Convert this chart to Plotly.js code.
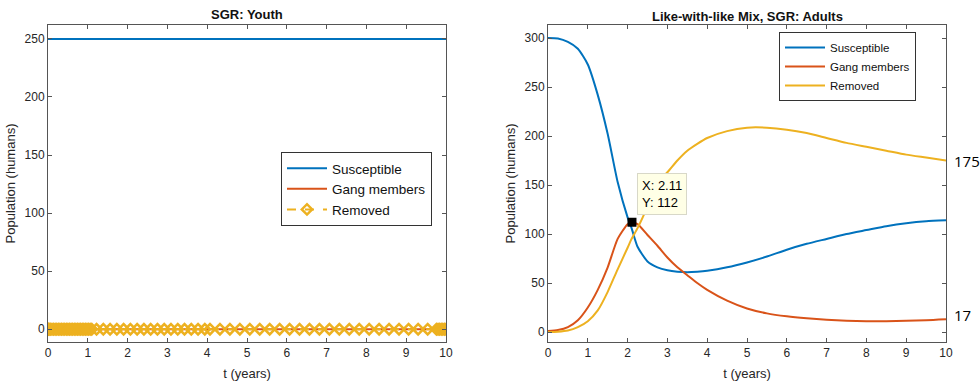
<!DOCTYPE html>
<html>
<head>
<meta charset="utf-8">
<script src="https://cdn.plot.ly/plotly-3.0.1.min.js"></script>
<style>html,body{margin:0;padding:0;background:#fff;}#chart{width:980px;height:382px;}</style>
</head>
<body>
<div id="chart"></div>
<script>
// ---- Left panel: SGR: Youth ----
const tYouthLine = [0, 10];
const susYouth = [250, 250];
const gangYouth = [0, 0];
const tYouth = [0,0.01,0.03,0.06,0.1,0.14,0.18,0.22,0.26,0.3,0.34,0.38,0.42,0.46,0.5,0.54,0.58,0.62,0.66,0.7,0.74,0.78,0.82,0.86,0.9,0.94,0.98,1.02,1.06,1.1,
  1.22,1.39,1.56,1.73,1.9,2.07,2.24,2.41,2.58,2.75,2.92,3.09,3.26,3.43,3.6,3.77,3.94,
  4.07,4.32,4.57,4.82,5.07,5.32,5.57,5.82,6.07,6.32,6.57,6.82,7.07,7.32,7.57,7.82,8.07,8.32,8.57,8.82,9.06,9.3,9.54,
  9.76,9.8,9.84,9.88,9.92,9.96,10];
const remYouth = [0,0,0,0,0,0,0,0,0,0,0,0,0,0,0,0,0,0,0,0,0,0,0,0,0,0,0,0,0,0,
  0,0,0,0,0,0,0,0,0,0,0,0,0,0,0,0,0,
  0,0,0,0,0,0,0,0,0,0,0,0,0,0,0,0,0,0,0,0,0,0,0,
  0,0,0,0,0,0,0];

// ---- Right panel: Like-with-like Mix, SGR: Adults ----
const tAdult = [0,0.25,0.5,0.75,1,1.25,1.5,1.75,2,2.1,2.25,2.5,2.75,3,3.25,3.5,3.75,4,4.5,5,5.5,6,6.5,7,7.5,8,8.5,9,9.5,10];
const susAdult = [300,299.5,296,289,273,242,202,153,117,106,87,72,66,63,61.5,61,61.5,62.5,66,71,77,84,90,95,100,104,108,111,113,114];
const gangAdult = [1,2,5,12,25,43,66,95,110,112,110,99,88,76,66,58,50,43,32,24,19,16,14,12.5,11.5,11,11,11.5,12,13];
const remAdult = [0,0.3,1.5,5,11,22,41,64,86,95,106,128,153,163,175,185,192,198,205,208.5,208.5,206.5,203,198,193,189,185,181,178,175];
const tipX = [2.11];
const tipY = [112];
const endLabels = ['175', '17'];
const endValues = [175, 17];

const cBlue = '#0072BD', cRed = '#D95319', cOrange = '#EDB120';
const FONT = 'Liberation Sans, Arial, Helvetica, sans-serif';
const axisCol = '#555555';
const tickCol = '#262626';

const traces = [
  {x: tYouthLine, y: susYouth, type: 'scatter', mode: 'lines', name: 'Susceptible', line: {color: cBlue, width: 2}, xaxis: 'x', yaxis: 'y', legend: 'legend'},
  {x: tYouthLine, y: gangYouth, type: 'scatter', mode: 'lines', name: 'Gang members', line: {color: cRed, width: 2}, xaxis: 'x', yaxis: 'y', legend: 'legend'},
  {x: tYouth, y: remYouth, type: 'scatter', mode: 'lines+markers', name: 'Removed', line: {color: cOrange, width: 2, dash: 'dash'},
   marker: {symbol: 'diamond-open', size: 8, color: cOrange, line: {color: cOrange, width: 2.5}}, xaxis: 'x', yaxis: 'y', legend: 'legend'},
  {x: tAdult, y: susAdult, type: 'scatter', mode: 'lines', name: 'Susceptible', line: {color: cBlue, width: 2, shape: 'spline', smoothing: 0.6}, xaxis: 'x2', yaxis: 'y2', legend: 'legend2'},
  {x: tAdult, y: gangAdult, type: 'scatter', mode: 'lines', name: 'Gang members', line: {color: cRed, width: 2, shape: 'spline', smoothing: 0.6}, xaxis: 'x2', yaxis: 'y2', legend: 'legend2'},
  {x: tAdult, y: remAdult, type: 'scatter', mode: 'lines', name: 'Removed', line: {color: cOrange, width: 2, shape: 'spline', smoothing: 0.6}, xaxis: 'x2', yaxis: 'y2', legend: 'legend2'},
  {x: tipX, y: tipY, type: 'scatter', mode: 'markers', showlegend: false, marker: {symbol: 'square', size: 9, color: '#000'}, xaxis: 'x2', yaxis: 'y2', hoverinfo: 'skip'}
];

function xax(domain) {
  return {domain: domain, range: [0, 10], tickvals: [0,1,2,3,4,5,6,7,8,9,10], ticks: 'inside', ticklen: 4, tickcolor: axisCol,
    showline: true, linecolor: axisCol, linewidth: 1, mirror: 'ticks', showgrid: false, zeroline: false,
    tickfont: {family: FONT, size: 12, color: tickCol}, title: {text: 't (years)', font: {family: FONT, size: 13, color: tickCol}, standoff: 9}};
}
function yax(range, tv, anchor) {
  return {domain: [0.1047, 0.9346], range: range, tickvals: tv, ticks: 'inside', ticklen: 4, tickcolor: axisCol, anchor: anchor,
    showline: true, linecolor: axisCol, linewidth: 1, mirror: 'ticks', showgrid: false, zeroline: false,
    tickfont: {family: FONT, size: 12, color: tickCol}, title: {text: 'Population (humans)', font: {family: FONT, size: 13, color: tickCol}, standoff: 6}};
}

const layout = {
  width: 980, height: 382,
  margin: {l: 0, r: 0, t: 0, b: 0},
  paper_bgcolor: '#ffffff', plot_bgcolor: '#ffffff',
  font: {family: FONT, color: tickCol},
  xaxis: Object.assign(xax([48/980, 446/980]), {anchor: 'y'}),
  yaxis: yax([-11, 262], [0,50,100,150,200,250], 'x'),
  xaxis2: Object.assign(xax([548/980, 946/980]), {anchor: 'y2'}),
  yaxis2: yax([-10.2, 313.3], [0,50,100,150,200,250,300], 'x2'),
  legend: {x: 281/980, y: 1 - 152/382, xanchor: 'left', yanchor: 'top', bgcolor: '#fff', bordercolor: '#333', borderwidth: 1,
    font: {family: FONT, size: 13.5, color: '#111'}, tracegroupgap: 0, itemwidth: 40},
  legend2: {x: 779/980, y: 1 - 32/382, xanchor: 'left', yanchor: 'top', bgcolor: '#fff', bordercolor: '#333', borderwidth: 1,
    font: {family: FONT, size: 11.5, color: '#111'}, tracegroupgap: 0, itemwidth: 40},
  annotations: [
    {xref: 'paper', yref: 'paper', x: 247/980, y: 1 - 15/382, xanchor: 'center', yanchor: 'middle', showarrow: false,
     text: '<b>SGR: Youth</b>', font: {family: FONT, size: 13, color: '#111'}},
    {xref: 'paper', yref: 'paper', x: 747/980, y: 1 - 16/382, xanchor: 'center', yanchor: 'middle', showarrow: false,
     text: '<b>Like-with-like Mix, SGR: Adults</b>', font: {family: FONT, size: 13, color: '#111'}},
    {xref: 'x2', yref: 'y2', x: tipX[0], y: tipY[0], xanchor: 'left', yanchor: 'bottom', xshift: 5, yshift: 7, showarrow: false, align: 'left',
     text: 'X: 2.11<br>Y: 112', bgcolor: '#ffffe6', bordercolor: '#d8d8c8', borderwidth: 1, borderpad: 4,
     font: {family: FONT, size: 13, color: '#000'}},
    {xref: 'paper', yref: 'y2', x: 952/980, y: endValues[0], xanchor: 'left', yanchor: 'middle', showarrow: false,
     text: endLabels[0], font: {family: 'Open Sans, Liberation Sans, sans-serif', size: 15, color: '#000'}},
    {xref: 'paper', yref: 'y2', x: 952/980, y: endValues[1], xanchor: 'left', yanchor: 'middle', showarrow: false,
     text: endLabels[1], font: {family: 'Open Sans, Liberation Sans, sans-serif', size: 15, color: '#000'}}
  ]
};

Plotly.newPlot('chart', traces, layout, {staticPlot: true, displayModeBar: false});
</script>
</body>
</html>
